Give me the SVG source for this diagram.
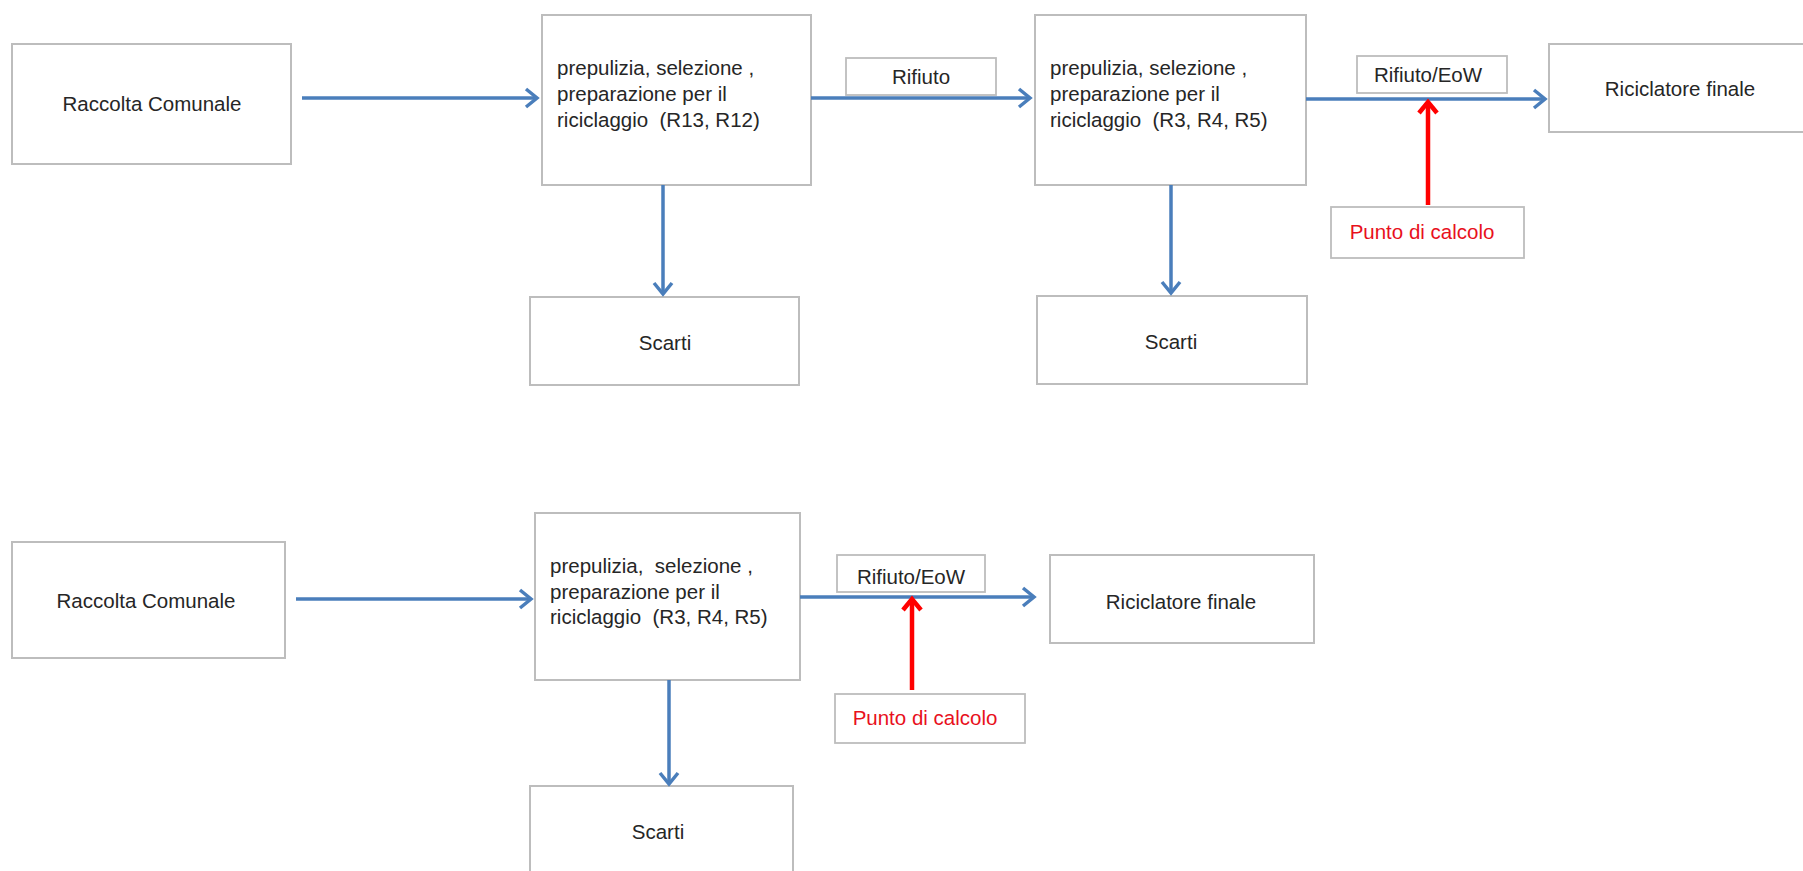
<svg xmlns="http://www.w3.org/2000/svg" width="1803" height="871" viewBox="0 0 1803 871">
  <style>
    .box { fill: #ffffff; stroke: #bdbdbd; stroke-width: 2; }
    .lbl { fill: #ffffff; stroke: #bdbdbd; stroke-width: 1.8; }
    .t { font-family: "Liberation Sans", Arial, sans-serif; font-size: 20.5px; fill: #262626; white-space: pre; }
    .c { text-anchor: middle; }
    .red { fill: #e8101c; }
    .blue { stroke: #4a7ebb; stroke-width: 3.5; fill: none; }
    .redl { stroke: #ff0000; stroke-width: 4.5; fill: none; }
  </style>
  <defs>
    <marker id="ab" markerUnits="userSpaceOnUse" markerWidth="18" markerHeight="22" refX="14" refY="11" orient="auto">
      <path d="M3,2 L14,11 L3,20" fill="none" stroke="#4a7ebb" stroke-width="3.5" stroke-linejoin="miter"/>
    </marker>
    <marker id="ar" markerUnits="userSpaceOnUse" markerWidth="18" markerHeight="22" refX="14" refY="11" orient="auto">
      <path d="M3,2 L14,11 L3,20" fill="none" stroke="#ff0000" stroke-width="4.5" stroke-linejoin="miter"/>
    </marker>
  </defs>

  <!-- Top row -->
  <g id="n-raccolta-1">
    <rect class="box" x="12" y="44" width="279" height="120"/>
    <text class="t c" x="152" y="111">Raccolta Comunale</text>
  </g>
  <g id="n-prepulizia-1">
    <rect class="box" x="542" y="15" width="269" height="170"/>
    <text class="t" x="557" y="75" xml:space="preserve">prepulizia, selezione ,</text>
    <text class="t" x="557" y="101" xml:space="preserve">preparazione per il</text>
    <text class="t" x="557" y="127" xml:space="preserve">riciclaggio  (R13, R12)</text>
  </g>
  <g id="n-rifiuto-1">
    <rect class="lbl" x="846" y="58" width="150" height="37"/>
    <text class="t c" x="921" y="84">Rifiuto</text>
  </g>
  <g id="n-prepulizia-2">
    <rect class="box" x="1035" y="15" width="271" height="170"/>
    <text class="t" x="1050" y="75" xml:space="preserve">prepulizia, selezione ,</text>
    <text class="t" x="1050" y="101" xml:space="preserve">preparazione per il</text>
    <text class="t" x="1050" y="127" xml:space="preserve">riciclaggio  (R3, R4, R5)</text>
  </g>
  <g id="n-scarti-1">
    <rect class="box" x="530" y="297" width="269" height="88"/>
    <text class="t c" x="665" y="350">Scarti</text>
  </g>
  <g id="n-scarti-2">
    <rect class="box" x="1037" y="296" width="270" height="88"/>
    <text class="t c" x="1171" y="349">Scarti</text>
  </g>
  <g id="n-rifiuto-eow-1">
    <rect class="lbl" x="1357" y="56" width="150" height="37"/>
    <text class="t c" x="1428" y="82">Rifiuto/EoW</text>
  </g>
  <g id="n-riciclatore-1">
    <rect class="box" x="1549" y="44" width="280" height="88"/>
    <text class="t c" x="1680" y="96">Riciclatore finale</text>
  </g>
  <g id="n-punto-1">
    <rect class="lbl" x="1331" y="207" width="193" height="51"/>
    <text class="t c red" x="1422" y="239">Punto di calcolo</text>
  </g>

  <!-- Bottom row -->
  <g id="n-raccolta-2">
    <rect class="box" x="12" y="542" width="273" height="116"/>
    <text class="t c" x="146" y="608">Raccolta Comunale</text>
  </g>
  <g id="n-prepulizia-3">
    <rect class="box" x="535" y="513" width="265" height="167"/>
    <text class="t" x="550" y="573" xml:space="preserve">prepulizia,  selezione ,</text>
    <text class="t" x="550" y="599" xml:space="preserve">preparazione per il</text>
    <text class="t" x="550" y="624" xml:space="preserve">riciclaggio  (R3, R4, R5)</text>
  </g>
  <g id="n-rifiuto-eow-2">
    <rect class="lbl" x="837" y="555" width="148" height="37"/>
    <text class="t c" x="911" y="584">Rifiuto/EoW</text>
  </g>
  <g id="n-riciclatore-2">
    <rect class="box" x="1050" y="555" width="264" height="88"/>
    <text class="t c" x="1181" y="609">Riciclatore finale</text>
  </g>
  <g id="n-punto-2">
    <rect class="lbl" x="835" y="694" width="190" height="49"/>
    <text class="t c red" x="925" y="725">Punto di calcolo</text>
  </g>
  <g id="n-scarti-3">
    <rect class="box" x="530" y="786" width="263" height="100"/>
    <text class="t c" x="658" y="839">Scarti</text>
  </g>

  <!-- Connectors -->
  <g id="connectors">
    <line class="blue" x1="302" y1="98" x2="537" y2="98" marker-end="url(#ab)"/>
    <line class="blue" x1="811" y1="98" x2="1030" y2="98" marker-end="url(#ab)"/>
    <line class="blue" x1="1306" y1="99" x2="1545" y2="99" marker-end="url(#ab)"/>
    <line class="blue" x1="663" y1="185" x2="663" y2="294" marker-end="url(#ab)"/>
    <line class="blue" x1="1171" y1="185" x2="1171" y2="293" marker-end="url(#ab)"/>
    <line class="redl" x1="1428" y1="205" x2="1428" y2="102" marker-end="url(#ar)"/>

    <line class="blue" x1="296" y1="599" x2="531" y2="599" marker-end="url(#ab)"/>
    <line class="blue" x1="800" y1="597" x2="1034" y2="597" marker-end="url(#ab)"/>
    <line class="blue" x1="669" y1="680" x2="669" y2="784" marker-end="url(#ab)"/>
    <line class="redl" x1="912" y1="690" x2="912" y2="599" marker-end="url(#ar)"/>
  </g>
</svg>
